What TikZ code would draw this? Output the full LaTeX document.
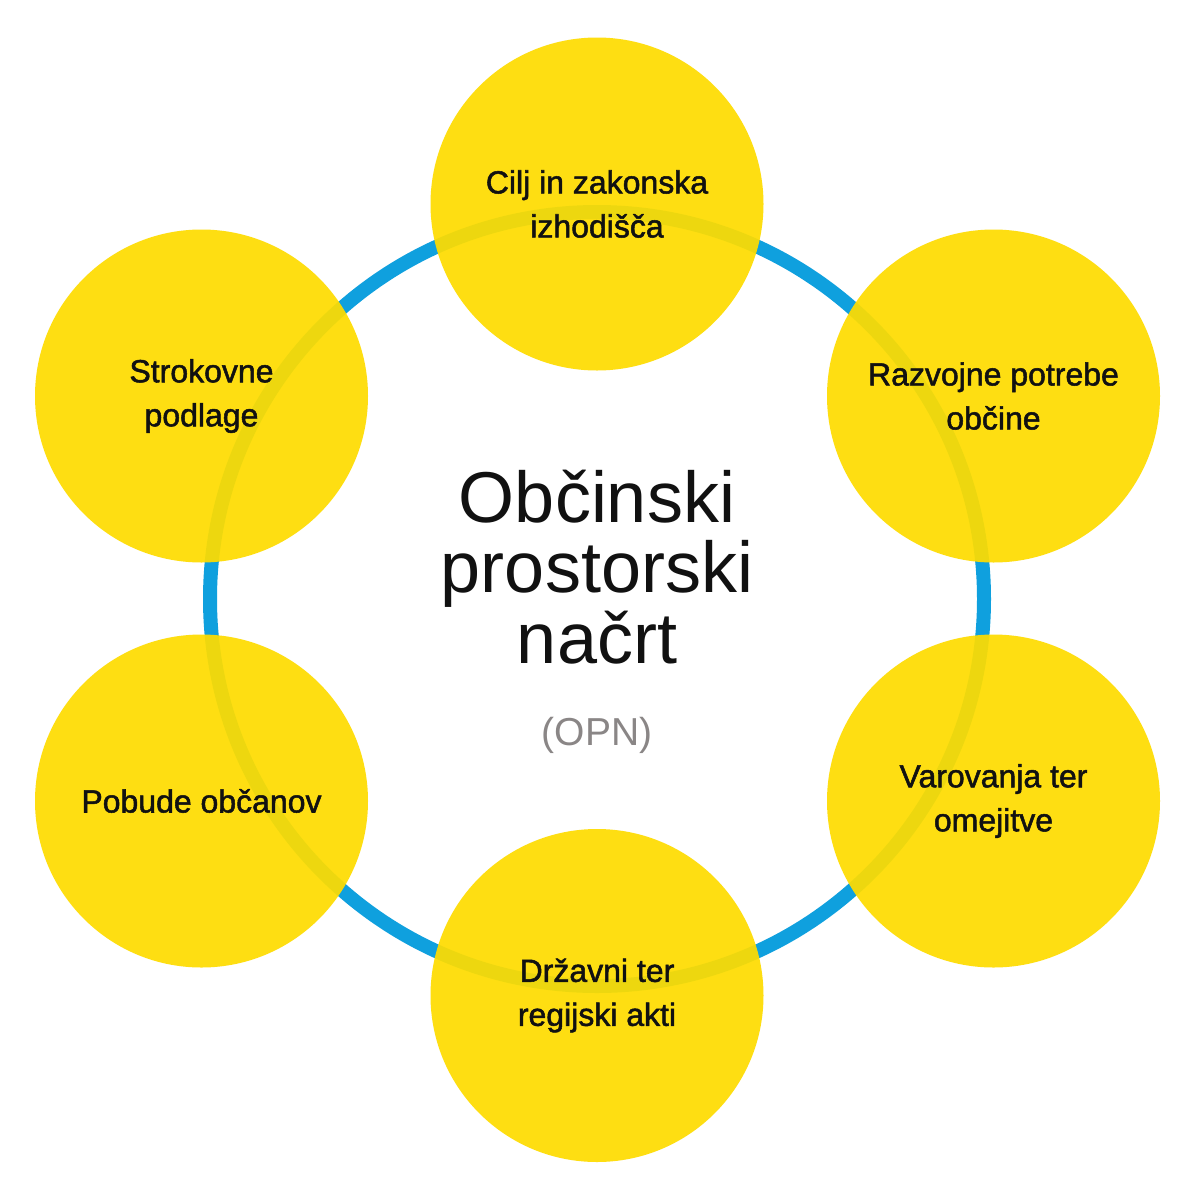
\documentclass[tikz,border=0pt]{standalone}
\usepackage{fontspec}
\setmainfont{Liberation Sans}
\newfontfamily\labelfont[FakeBold=1.6]{Liberation Sans}
\definecolor{ringblue}{HTML}{0FA0DE}
\definecolor{bubyellow}{HTML}{FEDC00}
\definecolor{opngray}{HTML}{8A8686}
\definecolor{txtblack}{HTML}{111111}
\tikzset{
  bub/.style={circle, minimum size=333pt, inner sep=0pt, fill=bubyellow, fill opacity=0.93, text opacity=1,
    align=center, text=txtblack, font=\labelfont\fontsize{32}{44}\selectfont},
  titleline/.style={anchor=base, inner sep=0pt, text=txtblack, font=\fontsize{72}{72}\selectfont},
  opnline/.style={anchor=base, inner sep=0pt, text=opngray, font=\fontsize{39}{39}\selectfont}
}
\begin{document}
\begin{tikzpicture}[x=1pt,y=-1pt]
\useasboundingbox (0,0) rectangle (1194,1200);
\fill[white] (0,0) rectangle (1194,1200);
\node[circle, draw=ringblue, line width=14pt, minimum size=774pt, inner sep=0pt] (ring) at (597,599) {};
\node[bub] (c1) at (597,204) {Cilj in zakonska\\izhodišča};
\node[bub] (c2) at (993.5,396) {Razvojne potrebe\\občine};
\node[bub] (c3) at (993.5,801) {Varovanja ter\\omejitve};
\node[bub] (c4) at (597,995.5) {Državni ter\\regijski akti};
\node[bub] (c5) at (201.5,801) {Pobude občanov};
\node[bub] (c6) at (201.5,396) {Strokovne\\podlage};
\node[titleline] (t1) at (597,522) {Občinski};
\node[titleline] (t2) at (597,592) {prostorski};
\node[titleline] (t3) at (597,663) {načrt};
\node[opnline] (t4) at (597,745) {(OPN)};
\end{tikzpicture}
\end{document}
